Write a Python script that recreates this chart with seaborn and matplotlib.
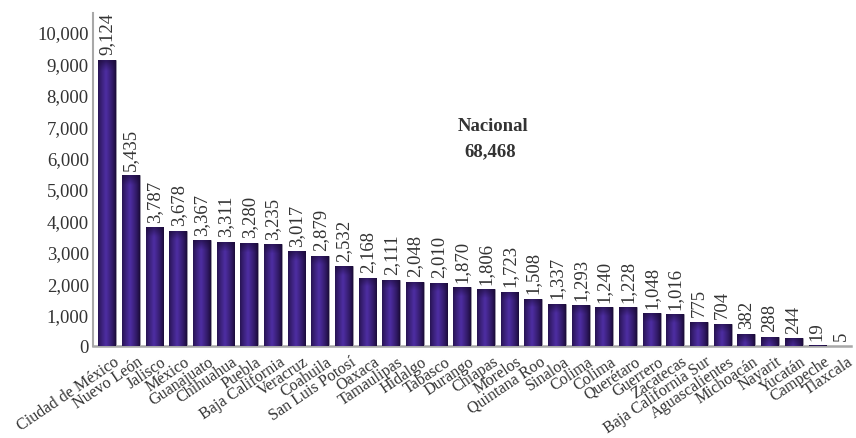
import numpy as np
import pandas as pd
import matplotlib.pyplot as plt
import seaborn as sns
from matplotlib.colors import to_rgb
from matplotlib.transforms import ScaledTranslation

# Data
states = ["Ciudad de México", "Nuevo León", "Jalisco", "México", "Guanajuato",
          "Chihuahua", "Puebla", "Baja California", "Veracruz", "Coahuila",
          "San Luis Potosí", "Oaxaca", "Tamaulipas", "Hidalgo", "Tabasco",
          "Durango", "Chiapas", "Morelos", "Quintana Roo", "Sinaloa", "Colima",
          "Colima", "Querétaro", "Guerrero", "Zacatecas", "Baja California Sur",
          "Aguascalientes", "Michoacán", "Nayarit", "Yucatán", "Campeche", "Tlaxcala"]
values = [9124, 5435, 3787, 3678, 3367, 3311, 3280, 3235, 3017, 2879,
          2532, 2168, 2111, 2048, 2010, 1870, 1806, 1723, 1508, 1337, 1293,
          1240, 1228, 1048, 1016, 775, 704, 382, 288, 244, 19, 5]
nacional = 68468
yticks = [0, 1000, 2000, 3000, 4000, 5000, 6000, 7000, 8000, 9000, 10000]

df = pd.DataFrame({"pos": np.arange(len(states)), "state": states, "value": values})

sns.set_style("white")
plt.rcParams['font.family'] = ['Liberation Serif', 'DejaVu Serif']
text_color = "#333333"

fig = plt.figure(figsize=(8.56, 4.39), dpi=100)
ax = fig.add_axes([0.1086, 0.2096, 0.885, 0.758])

sns.barplot(data=df, x="pos", y="value", color="#3b2180", width=0.75,
            ax=ax, errorbar=None)

# gradient fill for each bar
dark = np.array(to_rgb("#1b0b38"))
light = np.array(to_rgb("#4e2ea3"))
cols = np.linspace(0, 1, 40)
t = np.clip(1 - np.abs(cols - 0.45) / 0.55, 0, 1) ** 0.8
for patch in ax.patches:
    x0, y0 = patch.get_x(), patch.get_y()
    w, h = patch.get_width(), patch.get_height()
    if h <= 0:
        continue
    rows = 60
    yy = np.linspace(y0, y0 + h, rows)[:, None]
    band = 280
    shade = np.clip((y0 + h - yy) / band, 0, 1) * 0.6 + 0.4
    mix = t[None, :] * shade
    img = dark[None, None, :] + (light - dark)[None, None, :] * mix[:, :, None]
    im = ax.imshow(img, extent=[x0, x0 + w, y0, y0 + h], origin="lower",
                   aspect="auto", interpolation="bilinear", zorder=3)
    im.set_clip_path(patch)
    patch.set_edgecolor("#9a9a9a")
    patch.set_linewidth(0.4)

ax.set_xlim(-0.6, len(states) - 0.6)
ax.set_ylim(0, 10600)

# value labels
for i, v in enumerate(values):
    ax.annotate(f"{v:,}", (i, v), xytext=(0, 4), textcoords="offset points",
                rotation=90, ha="center", va="bottom", fontsize=13.5,
                color=text_color)

ax.tick_params(axis="x", length=0, pad=3)
ax.tick_params(axis="y", length=0, pad=3)
ax.set_yticks(yticks)
ax.set_yticklabels([f"{v:,}" for v in yticks], fontsize=13.5, color=text_color)
ax.set_xticks(df["pos"])
ax.set_xticklabels(states, rotation=34, ha="right", va="top",
                   rotation_mode="anchor", fontsize=11.6, color=text_color)
shift = ScaledTranslation(6 / 100, -3 / 100, fig.dpi_scale_trans)
for lbl in ax.get_xticklabels():
    lbl.set_transform(lbl.get_transform() + shift)
ax.set_xlabel("")
ax.set_ylabel("")

for side in ["top", "right"]:
    ax.spines[side].set_visible(False)
ax.spines["left"].set_color("#a8a8a8")
ax.spines["bottom"].set_color("#a8a8a8")
ax.spines["left"].set_linewidth(1.5)
ax.spines["bottom"].set_linewidth(1.8)

ax.text(14.8, 7020, "Nacional", fontsize=13.5, fontweight="bold", color=text_color,
        ha="left", va="center")
ax.text(15.1, 6220, f"{nacional:,}", fontsize=13.5, fontweight="bold",
        color=text_color, ha="left", va="center")

fig.savefig("out.png", dpi=100)
